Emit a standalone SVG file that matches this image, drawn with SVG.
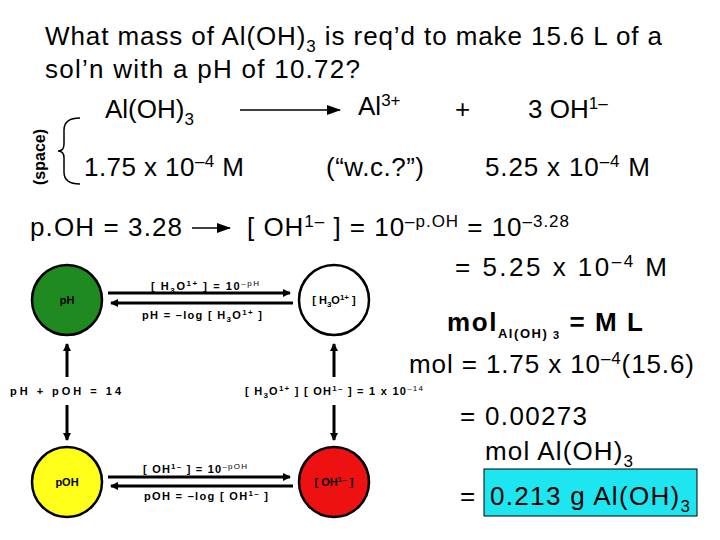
<svg xmlns="http://www.w3.org/2000/svg" width="720" height="540" viewBox="0 0 720 540">
<defs>
<marker id="ah" markerWidth="8" markerHeight="8" refX="7" refY="4" orient="auto" markerUnits="userSpaceOnUse"><path d="M0,0 L8,4 L0,8 z" fill="#000"/></marker>
<marker id="ahb" markerWidth="14" markerHeight="10" refX="13" refY="5" orient="auto" markerUnits="userSpaceOnUse"><path d="M0,0 L14,5 L0,10 z" fill="#000"/></marker>
</defs>
<style>
text{font-family:"Liberation Sans",Arial,sans-serif;fill:#000}
.big{font-size:26px}
.sm{font-size:11px;font-weight:bold}
.c{stroke:#000;stroke-width:2.5}
.ln{stroke:#000;stroke-width:3;fill:none}
.tl{stroke:#000;stroke-width:1.5;fill:none}
</style>
<rect width="720" height="540" fill="#fff"/>
<text class="big" x="45" y="45" textLength="617" lengthAdjust="spacing">What mass of Al(OH)<tspan font-size="17" dy="7">3</tspan><tspan dy="-7"> is req’d to make 15.6 L of a</tspan></text>
<text class="big" x="45" y="78" textLength="315" lengthAdjust="spacing">sol’n with a pH of 10.72?</text>
<text class="big" x="105" y="118">Al(OH)<tspan font-size="17" dy="7">3</tspan></text>
<line class="tl" x1="240" y1="110" x2="340" y2="110" marker-end="url(#ahb)"/>
<text class="big" x="358" y="115">Al<tspan font-size="17" dy="-9">3+</tspan></text>
<text class="big" x="455" y="118">+</text>
<text class="big" x="528" y="118">3 OH<tspan font-size="17" dy="-9">1–</tspan></text>
<text x="45" y="185" transform="rotate(-90 45 185)" font-size="16" font-weight="bold">(space)</text>
<path d="M80,118 Q64,118 64,130 L64,144 Q64,151 58,151 Q64,151 64,158 L64,172 Q64,184 80,184" class="tl"/>
<text class="big" x="84" y="176" textLength="160" lengthAdjust="spacing">1.75 x 10<tspan font-size="17" dy="-9">–4</tspan><tspan dy="9"> M</tspan></text>
<text class="big" x="326" y="176" textLength="98" lengthAdjust="spacing">(“w.c.?”)</text>
<text class="big" x="485" y="176" textLength="165" lengthAdjust="spacing">5.25 x 10<tspan font-size="17" dy="-9">–4</tspan><tspan dy="9"> M</tspan></text>
<text class="big" x="30" y="236" textLength="152" lengthAdjust="spacing">p.OH = 3.28</text>
<line class="tl" x1="192" y1="228" x2="230" y2="228" marker-end="url(#ahb)"/>
<text class="big" x="247" y="236" textLength="322" lengthAdjust="spacing">[ OH<tspan font-size="17" dy="-9">1–</tspan><tspan dy="9"> ] = 10</tspan><tspan font-size="17" dy="-9">–p.OH</tspan><tspan dy="9">  = 10</tspan><tspan font-size="17" dy="-9">–3.28</tspan></text>
<text class="big" x="455" y="276" textLength="212" lengthAdjust="spacing">=  5.25 x 10<tspan font-size="17" dy="-9">–4</tspan><tspan dy="9"> M</tspan></text>
<g id="connectors">
<line class="ln" x1="108" y1="293" x2="290" y2="293" marker-end="url(#ah)"/>
<line class="ln" x1="293" y1="303" x2="111" y2="303" marker-end="url(#ah)"/>
<line class="ln" x1="108" y1="477" x2="290" y2="477" marker-end="url(#ah)"/>
<line class="ln" x1="293" y1="486" x2="111" y2="486" marker-end="url(#ah)"/>
<line class="ln" x1="67" y1="377" x2="67" y2="344" marker-end="url(#ah)"/>
<line class="ln" x1="67" y1="405" x2="67" y2="440" marker-end="url(#ah)"/>
<line class="ln" x1="334" y1="377" x2="334" y2="344" marker-end="url(#ah)"/>
<line class="ln" x1="334" y1="405" x2="334" y2="440" marker-end="url(#ah)"/>
<text class="sm" x="151" y="290" textLength="108" lengthAdjust="spacing">[ H<tspan font-size="8" dy="3">3</tspan><tspan dy="-3">O</tspan><tspan font-size="8" dy="-4">1+</tspan><tspan dy="4"> ] = 10</tspan><tspan font-size="8" dy="-4" font-weight="normal">–pH</tspan></text>
<text class="sm" x="142" y="319" textLength="120" lengthAdjust="spacing">pH = –log [ H<tspan font-size="8" dy="3">3</tspan><tspan dy="-3">O</tspan><tspan font-size="8" dy="-4">1+</tspan><tspan dy="4"> ]</tspan></text>
<text class="sm" x="10" y="395" textLength="111" lengthAdjust="spacing">pH  +  pOH  =  14</text>
<text class="sm" x="245" y="395" textLength="178" lengthAdjust="spacing">[ H<tspan font-size="8" dy="3">3</tspan><tspan dy="-3">O</tspan><tspan font-size="8" dy="-4">1+</tspan><tspan dy="4"> ] [ OH</tspan><tspan font-size="8" dy="-4">1–</tspan><tspan dy="4"> ] = 1 x 10</tspan><tspan font-size="8" dy="-4" font-weight="normal">–14</tspan></text>
<text class="sm" x="143" y="473" textLength="104" lengthAdjust="spacing">[ OH<tspan font-size="8" dy="-4">1–</tspan><tspan dy="4"> ] = 10</tspan><tspan font-size="8" dy="-4" font-weight="normal">–pOH</tspan></text>
<text class="sm" x="144" y="500" textLength="124" lengthAdjust="spacing">pOH = –log [ OH<tspan font-size="8" dy="-4">1–</tspan><tspan dy="4"> ]</tspan></text>
</g>
<g id="pH"><circle class="c" cx="67" cy="300" r="35" fill="#1f8a1f"/><text class="sm" x="67" y="304" text-anchor="middle">pH</text></g>
<g id="H3O"><circle class="c" cx="334" cy="300" r="35" fill="#fff"/><text class="sm" x="334" y="304" text-anchor="middle">[ H<tspan font-size="8" dy="3">3</tspan><tspan dy="-3">O</tspan><tspan font-size="8" dy="-4">1+</tspan><tspan dy="4"> ]</tspan></text></g>
<g id="pOH"><circle class="c" cx="67" cy="482" r="35" fill="#ffff1a"/><text class="sm" x="67" y="486" text-anchor="middle">pOH</text></g>
<g id="OH"><circle class="c" cx="334" cy="482" r="35" fill="#ee1111"/><text class="sm" x="334" y="486" text-anchor="middle">[ OH<tspan font-size="8" dy="-4">1–</tspan><tspan dy="4"> ]</tspan></text></g>
<text x="447" y="331" font-size="26" font-weight="bold" textLength="196" lengthAdjust="spacing">mol<tspan font-size="13" dy="7">Al(OH)</tspan><tspan font-size="11" dy="1"> 3</tspan><tspan dy="-8"> = M L</tspan></text>
<text class="big" x="409" y="373" textLength="285" lengthAdjust="spacing">mol = 1.75 x 10<tspan font-size="17" dy="-9">–4</tspan><tspan dy="9">(15.6)</tspan></text>
<text class="big" x="460" y="425" textLength="127" lengthAdjust="spacing">= 0.00273</text>
<text class="big" x="485" y="460" textLength="148" lengthAdjust="spacing">mol Al(OH)<tspan font-size="17" dy="7">3</tspan></text>
<rect x="484" y="469" width="213" height="47" fill="#1ee6f0" stroke="#000" stroke-width="1"/>
<text class="big" x="460" y="505">=</text>
<text class="big" x="490" y="505" textLength="200" lengthAdjust="spacing">0.213 g Al(OH)<tspan font-size="17" dy="7">3</tspan></text>
</svg>
